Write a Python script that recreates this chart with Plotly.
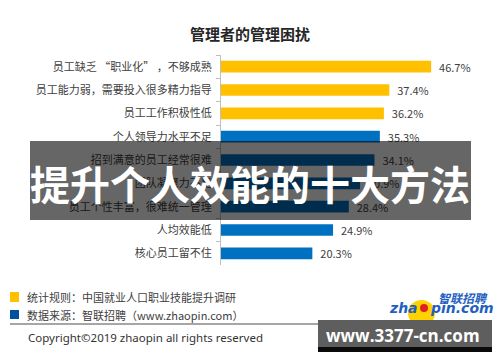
import plotly.graph_objects as go

# ---- data ----
categories = [
    "员工缺乏 “职业化” ，不够成熟",
    "员工能力弱，需要投入很多精力指导",
    "员工工作积极性低",
    "个人领导力水平不足",
    "招到满意的员工经常很难",
    "团队凝聚力不足",
    "员工个性丰富，很难统一管理",
    "人均效能低",
    "核心员工留不住",
]
values = [46.7, 37.4, 36.2, 35.3, 34.1, 30.9, 28.4, 24.9, 20.3]
groups = ["top", "top", "top", "rest", "rest", "rest", "rest", "rest", "rest"]

title_text = "管理者的管理困扰"
overlay_text = "提升个人效能的十大方法"
note_rule = "统计规则：中国就业人口职业技能提升调研"
note_source = "数据来源：智联招聘（www.zhaopin.com）"
copyright_text = "Copyright©2019 zhaopin all rights reserved"
watermark_text = "www.3377-cn.com"

# ---- style ----
W, H = 500, 362
COLORS = {"top": "#FFC000", "rest": "#0070C0"}
CJK = "Noto Sans CJK SC"


def px(x):
    return x / W


def py(y):
    return 1 - y / H


fig = go.Figure()
fig.add_trace(go.Bar(
    x=values,
    y=categories,
    orientation="h",
    marker=dict(color=[COLORS[g] for g in groups], line=dict(width=0)),
    width=0.5,
    texttemplate="  %{x:.1f}%",
    textposition="outside",
    textfont=dict(size=11, color="#404040", family=CJK),
    cliponaxis=False,
    constraintext="none",
    hoverinfo="skip",
))

shapes = []
annotations = []


def note(x, y, text, size, color, family=CJK, xa="left", ya="middle"):
    annotations.append(dict(x=px(x), y=py(y), xref="paper", yref="paper",
                            xanchor=xa, yanchor=ya, text=text, showarrow=False,
                            font=dict(size=size, color=color, family=family)))


# title
note(250, 33, "<b>" + title_text + "</b>", 15, "#262626", xa="center")

# overlay band
shapes.append(dict(type="rect", xref="paper", yref="paper", layer="above",
                   x0=px(30), x1=px(471), y0=py(220), y1=py(141),
                   fillcolor="rgba(0,0,0,0.6)", line=dict(width=0)))
note(250, 183, "<b>" + overlay_text + "</b>", 40, "white", xa="center")

# footer legend squares and notes
shapes.append(dict(type="rect", xref="paper", yref="paper", layer="above",
                   x0=px(10), x1=px(19), y0=py(302), y1=py(292),
                   fillcolor="#FFC000", line=dict(width=0)))
shapes.append(dict(type="rect", xref="paper", yref="paper", layer="above",
                   x0=px(10), x1=px(19), y0=py(319), y1=py(310),
                   fillcolor="#0050A0", line=dict(width=0)))
note(25, 297, note_rule, 11, "#404040")
note(25, 315, note_source, 11, "#404040")
shapes.append(dict(type="line", xref="paper", yref="paper", layer="above",
                   x0=px(10), x1=px(492), y0=py(324), y1=py(324),
                   line=dict(color="#A6A6A6", width=2)))
note(26, 337, copyright_text, 11.5, "#333333", family="Noto Sans")

# logo
shapes.append(dict(type="circle", xref="paper", yref="paper", layer="above",
                   x0=px(408), x1=px(435), y0=py(326), y1=py(300),
                   fillcolor="#FFD200", line=dict(width=0)))
shapes.append(dict(type="circle", xref="paper", yref="paper", layer="above",
                   x0=px(420), x1=px(428), y0=py(312), y1=py(304),
                   fillcolor="#E02020", line=dict(width=0)))
note(490, 297, "<b><i>智联招聘</i></b>", 12, "#1F5FBF", xa="right")
note(420, 308, "<b><i>zha</i></b>", 14, "#1F5FBF", family="DejaVu Sans", xa="right")
note(428, 308, "<b><i>pin.com</i></b>", 14, "#1F5FBF", family="DejaVu Sans")

# watermark box
shapes.append(dict(type="rect", xref="paper", yref="paper", layer="above",
                   x0=px(318), x1=px(492), y0=py(347), y1=py(320),
                   fillcolor="#5E5E5E", line=dict(width=0)))
shapes.append(dict(type="rect", xref="paper", yref="paper", layer="above",
                   x0=px(318), x1=px(492), y0=py(352), y1=py(347),
                   fillcolor="#0A0A0A", line=dict(width=0)))
note(403, 335, "<b>" + watermark_text + "</b>", 17, "white", family="Open Sans", xa="center")

fig.update_layout(
    width=W, height=H,
    margin=dict(l=0, r=0, t=0, b=0),
    paper_bgcolor="white", plot_bgcolor="white",
    showlegend=False,
    font=dict(family=CJK, color="#404040"),
    bargap=0.5,
    xaxis=dict(domain=[px(221), px(491)], range=[0, 60], visible=False,
               fixedrange=True),
    yaxis=dict(domain=[py(265), py(55)], type="category",
               categoryorder="array", categoryarray=categories,
               autorange="reversed",
               showline=True, linecolor="#BFBFBF", linewidth=1,
               ticks="outside", tickson="boundaries", ticklen=4,
               tickcolor="#BFBFBF", tickfont=dict(size=11, color="#404040"),
               ticklabelstandoff=6,
               showgrid=False, zeroline=False, fixedrange=True),
    shapes=shapes,
    annotations=annotations,
)

fig.write_html("out.html", config={"displayModeBar": False},
               post_script="document.body.style.margin='0';")
